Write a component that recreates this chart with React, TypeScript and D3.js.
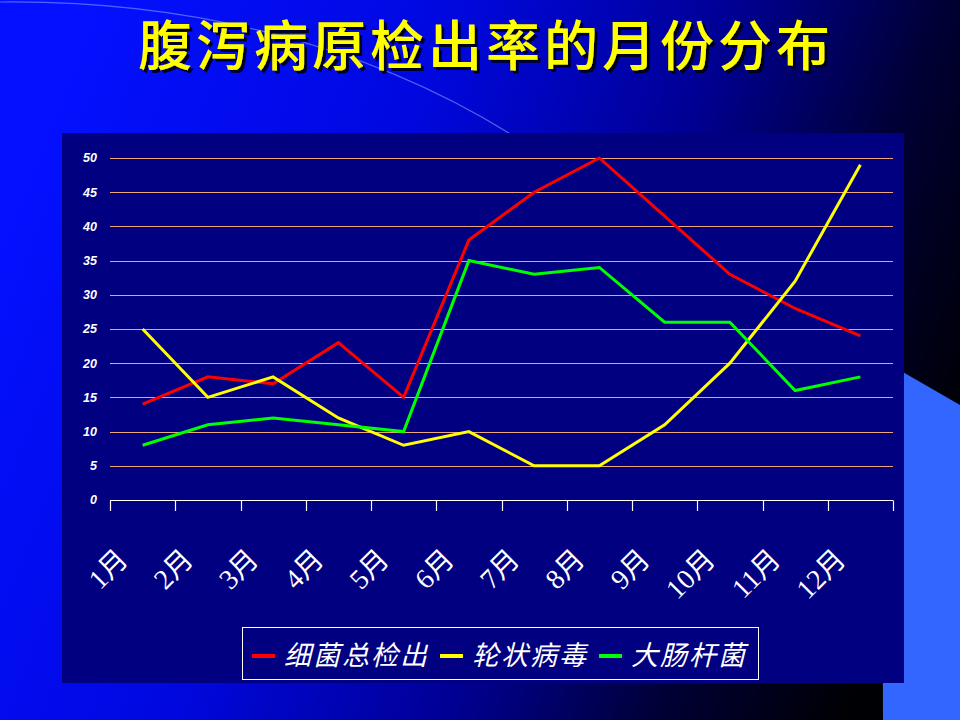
import * as d3 from 'd3';

const months = ['1月', '2月', '3月', '4月', '5月', '6月', '7月', '8月', '9月', '10月', '11月', '12月'];
const bacteria = [14, 18, 17, 23, 15, 38, 45, 50, 41.5, 33, 28, 24];
const rotavirus = [25, 15, 18, 12, 8, 10, 5, 5, 11, 20, 32, 49];
const ecoli = [8, 11, 12, 11, 10, 35, 33, 34, 26, 26, 16, 18];
const seriesNames = ['细菌总检出', '轮状病毒', '大肠杆菌'];
const seriesColors = ['#FF0000', '#FFFF00', '#00FF00'];
const yTicks = [0, 5, 10, 15, 20, 25, 30, 35, 40, 45, 50];

const W = 960;
const H = 720;
const CJK = '"Noto Sans CJK SC", "Noto Sans", sans-serif';

export default function App() {
  const x = d3.scaleBand<string>().domain(months).range([110, 893]);
  const y = d3.scaleLinear().domain([0, 50]).range([500, 158]);
  const cx = (m: string) => (x(m) ?? 0) + x.bandwidth() / 2;
  const crisp = (v: number) => Math.round(v) + 0.5;

  const line = d3
    .line<number>()
    .x((_, i) => cx(months[i]))
    .y((d) => y(d));

  const series = [bacteria, rotavirus, ecoli];
  const tickXs = [...months.map((m) => x(m) ?? 0), x.range()[1]];

  // legend layout (text widths estimated from the glyph size)
  const legendFont = 27;
  let lx = 252;
  const legendItems = seriesNames.map((name, i) => {
    const item = { name, color: seriesColors[i], x: lx };
    lx += 32 + name.length * (legendFont + 2) + 11;
    return item;
  });

  return (
    <svg
      width={W}
      height={H}
      style={{ position: 'absolute', left: 0, top: 0 }}
      xmlns="http://www.w3.org/2000/svg"
    >
      <defs>
        <linearGradient id="bg" x1="0" y1="0.3" x2="1" y2="0.6">
          <stop offset="0" stopColor="#0410FF" />
          <stop offset="0.35" stopColor="#0008E0" />
          <stop offset="0.62" stopColor="#000094" />
          <stop offset="0.82" stopColor="#000036" />
          <stop offset="1" stopColor="#000004" />
        </linearGradient>
        <filter id="shadow" x="-20%" y="-60%" width="140%" height="220%">
          <feDropShadow dx={3} dy={3} stdDeviation={0.6} floodColor="#000010" floodOpacity={0.9} />
        </filter>
      </defs>

      {/* slide background */}
      <rect x={0} y={0} width={W} height={H} fill="url(#bg)" />
      <path
        d="M0,2 C180,0 360,40 512,135"
        fill="none"
        stroke="#8FA8FF"
        strokeOpacity={0.55}
        strokeWidth={1.2}
      />
      <polygon points="882,360 960,405 960,720 883,720" fill="#3366FF" />

      {/* title */}
      <text
        x={486}
        y={66}
        fontFamily={CJK}
        fontSize={54}
        fontWeight={500}
        textAnchor="middle"
        fill="#FFFF00"
        letterSpacing={4}
        filter="url(#shadow)"
      >
        腹泻病原检出率的月份分布
      </text>

      {/* chart panel */}
      <rect x={62} y={133} width={842} height={550} fill="#000080" />

      {/* gridlines */}
      {yTicks
        .filter((t) => t > 0)
        .map((t) => (
          <line
            key={t}
            x1={x.range()[0]}
            x2={x.range()[1]}
            y1={crisp(y(t))}
            y2={crisp(y(t))}
            stroke="#EFA67A"
            strokeWidth={1}
          />
        ))}

      {/* y tick labels */}
      <g
        fontFamily='"Liberation Sans", Arial, sans-serif'
        fontSize={12.5}
        fontWeight="bold"
        fontStyle="italic"
        fill="#FFFFFF"
        textAnchor="end"
      >
        {yTicks.map((t) => (
          <text key={t} x={97} y={y(t)} dy="0.35em">
            {t}
          </text>
        ))}
      </g>

      {/* x axis */}
      <line x1={x.range()[0]} x2={x.range()[1]} y1={crisp(y(0))} y2={crisp(y(0))} stroke="#FFFFFF" strokeWidth={1.2} />
      {tickXs.map((tx, i) => (
        <line
          key={i}
          x1={crisp(tx)}
          x2={crisp(tx)}
          y1={crisp(y(0))}
          y2={y(0) + 11}
          stroke="#FFFFFF"
          strokeWidth={1.2}
        />
      ))}

      <g
        fontFamily='"Liberation Serif", "Times New Roman", "Noto Sans CJK SC", serif'
        fontSize={28}
        fill="#FFFFFF"
        textAnchor="end"
      >
        {months.map((m) => (
          <text key={m} transform={`translate(${cx(m) - 13},${561}) rotate(-45)`}>
            {m}
          </text>
        ))}
      </g>

      {/* series */}
      {series.map((s, i) => (
        <path
          key={seriesNames[i]}
          d={line(s) ?? ''}
          fill="none"
          stroke={seriesColors[i]}
          strokeWidth={3}
          strokeLinejoin="miter"
        />
      ))}

      {/* legend */}
      <rect x={242.5} y={627.5} width={516} height={52} fill="none" stroke="#FFFFFF" strokeWidth={1} />
      <g fontFamily={CJK} fontSize={legendFont} fontStyle="italic" fill="#FFFFFF">
        {legendItems.map((it) => (
          <g key={it.name}>
            <line x1={it.x} x2={it.x + 23} y1={656} y2={656} stroke={it.color} strokeWidth={4} />
            <text x={it.x + 32} y={665} letterSpacing={2}>
              {it.name}
            </text>
          </g>
        ))}
      </g>
    </svg>
  );
}
